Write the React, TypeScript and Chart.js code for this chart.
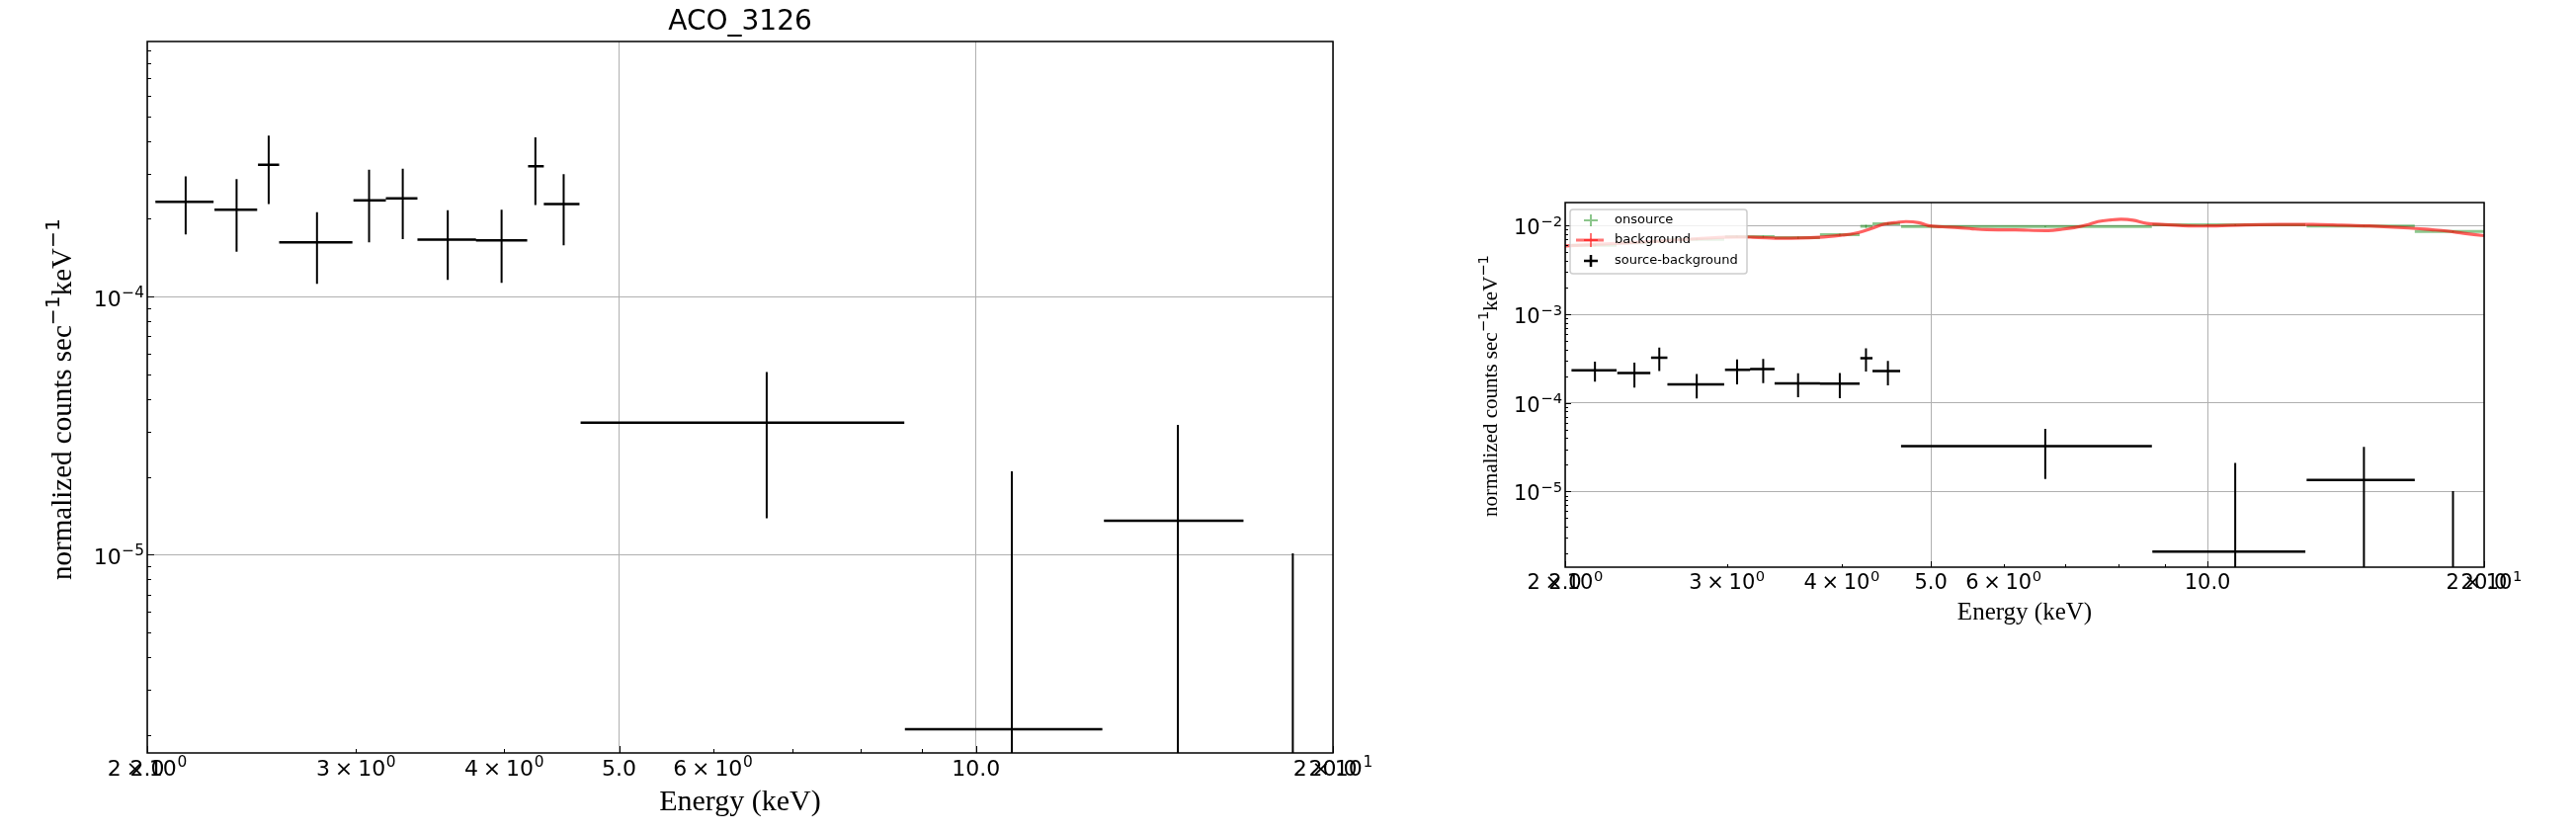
import React, { useEffect, useRef } from 'react';
import { Chart, registerables } from 'chart.js';

Chart.register(...registerables);

// ---------- data (keV ; normalized counts s^-1 keV^-1) ----------
const srcEnergy = [2.155, 2.379, 2.532, 2.781, 3.077, 3.285, 3.585, 3.98, 4.25, 4.49, 6.66, 10.72, 14.8, 18.5];
const srcEnergyLo = [2.032, 2.279, 2.48, 2.584, 2.985, 3.179, 3.38, 3.787, 4.19, 4.32, 4.64, 8.71, 12.82, 16.81];
const srcEnergyHi = [2.275, 2.476, 2.584, 2.979, 3.179, 3.38, 3.787, 4.183, 4.32, 4.63, 8.7, 12.78, 16.81, 20.4];
const srcRate = [2.33e-4, 2.17e-4, 3.24e-4, 1.62e-4, 2.36e-4, 2.4e-4, 1.66e-4, 1.65e-4, 3.2e-4, 2.28e-4, 3.24e-5, 2.1e-6, 1.35e-5, 1.0e-6];
const srcErr = [5.9e-5, 6.8e-5, 9.6e-5, 5.0e-5, 7.4e-5, 7.3e-5, 5.0e-5, 5.2e-5, 9.4e-5, 7.0e-5, 1.86e-5, 1.89e-5, 1.83e-5, 9.1e-6];

const onRate = [6.0e-3, 6.4e-3, 6.7e-3, 7.0e-3, 7.5e-3, 7.5e-3, 7.3e-3, 7.9e-3, 9.8e-3, 1.05e-2, 9.74e-3, 1.02e-2, 9.9e-3, 8.57e-3];
const onErr = [2e-4, 2e-4, 3e-4, 2e-4, 2e-4, 2e-4, 2e-4, 2e-4, 4e-4, 3e-4, 1.5e-4, 1.5e-4, 1.5e-4, 1.5e-4];

const bkgEnergy = [2.0, 2.27, 2.6, 2.98, 3.2, 3.45, 3.78, 4.0, 4.14, 4.3, 4.45, 4.6, 4.7, 4.85, 4.97, 5.15, 5.35, 5.55, 5.75, 6.18, 6.71, 6.95, 7.16, 7.4, 7.6, 7.85, 8.06, 8.3, 8.59, 8.92, 9.4, 10.0, 11.0, 12.0, 13.0, 14.0, 15.0, 16.55, 17.5, 18.2, 19.0, 20.0];
const bkgRate = [5.9e-3, 6.3e-3, 6.8e-3, 7.4e-3, 7.4e-3, 7.2e-3, 7.4e-3, 7.8e-3, 8.2e-3, 9.2e-3, 1.04e-2, 1.09e-2, 1.11e-2, 1.08e-2, 1.0e-2, 9.7e-3, 9.5e-3, 9.2e-3, 9.0e-3, 8.95e-3, 8.8e-3, 9.1e-3, 9.5e-3, 1.02e-2, 1.11e-2, 1.16e-2, 1.18e-2, 1.15e-2, 1.06e-2, 1.03e-2, 1.0e-2, 9.9e-3, 1.02e-2, 1.03e-2, 1.03e-2, 1.01e-2, 9.9e-3, 9.4e-3, 9.0e-3, 8.7e-3, 8.2e-3, 7.7e-3];

// ---------- ticks / labels ----------
const X_MIN = 2;
const X_MAX = 20;
const xTickValues = [2, 2.0000001, 3, 4, 5, 6, 7, 8, 9, 10, 20, 20.0000001];
const xTickLabels = ['2×10^0', '2.0', '3×10^0', '4×10^0', '5.0', '6×10^0', '', '', '', '10.0', '2×10^1', '20.0'];
const xMajorTicks = [2, 5, 10, 20];
const yDecades = [1e-7, 1e-6, 1e-5, 1e-4, 1e-3, 1e-2];
const yDecadeLabels = ['10^−7', '10^−6', '10^−5', '10^−4', '10^−3', '10^−2'];
const yMinorMultipliers = [2, 3, 4, 5, 6, 7, 8, 9];
const yTitleParts = [
  { text: 'normalized counts sec', sup: false },
  { text: '−1', sup: true },
  { text: 'keV', sup: false },
  { text: '−1', sup: true },
];

const LOG_FLOOR = 1e-9;

type Pt = { x: number; y: number | null };

function hSegments(lo: number[], hi: number[], y: number[]): Pt[] {
  const out: Pt[] = [];
  y.forEach((v, i) => {
    out.push({ x: lo[i], y: v }, { x: hi[i], y: v }, { x: hi[i], y: null });
  });
  return out;
}

function vSegments(x: number[], y: number[], err: number[]): Pt[] {
  const out: Pt[] = [];
  y.forEach((v, i) => {
    const low = v - err[i] > 0 ? v - err[i] : LOG_FLOOR;
    out.push({ x: x[i], y: low }, { x: x[i], y: v + err[i] }, { x: x[i], y: null });
  });
  return out;
}

const isNear = (a: number, b: number) => Math.abs(a - b) / b < 1e-6;
const isDecade = (v: number) => yDecades.some((d) => isNear(v, d));
const isXMajor = (v: number) => xMajorTicks.some((d) => Math.abs(v - d) < 1e-5);

// draws "base^sup" in a mathtext-like way (superscript at 70 %)
function drawMathLabel(ctx: CanvasRenderingContext2D, label: string, x: number, baseline: number, align: 'center' | 'right', F: number) {
  if (!label) return;
  const [base, sup] = label.split('^');
  const baseFont = `${F}px 'DejaVu Sans'`;
  const supFont = `${(F * 0.7).toFixed(2)}px 'DejaVu Sans'`;
  const segs = base.split('×');
  const gap = F * 0.22;
  ctx.font = baseFont;
  const segW = segs.map((s) => ctx.measureText(s).width);
  const timesW = ctx.measureText('×').width;
  let total = segW.reduce((a, b) => a + b, 0) + (segs.length - 1) * (timesW + 2 * gap);
  let supW = 0;
  if (sup) {
    ctx.font = supFont;
    supW = ctx.measureText(sup).width;
    total += supW + F * 0.03;
  }
  let cx = align === 'center' ? x - total / 2 : x - total;
  ctx.textAlign = 'left';
  ctx.textBaseline = 'alphabetic';
  ctx.font = baseFont;
  segs.forEach((s, i) => {
    if (i > 0) {
      cx += gap;
      ctx.fillText('×', cx, baseline);
      cx += timesW + gap;
    }
    ctx.fillText(s, cx, baseline);
    cx += segW[i];
  });
  if (sup) {
    ctx.font = supFont;
    ctx.fillText(sup, cx + F * 0.03, baseline - F * 0.4);
  }
}

interface PanelCfg {
  yMin: number;
  yMax: number;
  padTop: number;
  padRight: number;
  yAxisWidth: number;
  xAxisHeight: number;
  tickFont: number;
  xLabelBaseline: number;
  yLabelPad: number;
  yLabelShift: number;
  yTitleFont: number;
  yTitleBaseline: number;
  yTitleCenterShift: number;
  xTitleFont: number;
  xTitlePad: number;
  title?: string;
  full: boolean;
  hWidth: number;
  vWidth: number;
  majorLen: number;
  minorLen: number;
}

function legendPlugin() {
  return {
    id: 'boxLegend',
    afterDraw(chart: any) {
      const { ctx, chartArea: a } = chart;
      const L = a.left + 5;
      const T = a.top + 7;
      const W = 179;
      const H = 65;
      ctx.save();
      ctx.fillStyle = 'rgba(255,255,255,0.8)';
      ctx.strokeStyle = 'rgba(200,200,200,0.9)';
      ctx.lineWidth = 1.5;
      ctx.beginPath();
      const r = 3;
      ctx.moveTo(L + r, T);
      ctx.lineTo(L + W - r, T);
      ctx.quadraticCurveTo(L + W, T, L + W, T + r);
      ctx.lineTo(L + W, T + H - r);
      ctx.quadraticCurveTo(L + W, T + H, L + W - r, T + H);
      ctx.lineTo(L + r, T + H);
      ctx.quadraticCurveTo(L, T + H, L, T + H - r);
      ctx.lineTo(L, T + r);
      ctx.quadraticCurveTo(L, T, L + r, T);
      ctx.closePath();
      ctx.fill();
      ctx.stroke();

      const mx = L + 21;
      const rows = [T + 11, T + 31, T + 52];
      const plus = (cx: number, cy: number, hx: number, hy: number, color: string, w: number) => {
        ctx.strokeStyle = color;
        ctx.lineWidth = w;
        ctx.beginPath();
        ctx.moveTo(cx - hx, cy);
        ctx.lineTo(cx + hx, cy);
        ctx.moveTo(cx, cy - hy);
        ctx.lineTo(cx, cy + hy);
        ctx.stroke();
      };
      plus(mx, rows[0], 7, 6, 'rgba(0,128,0,0.45)', 2);
      ctx.strokeStyle = 'rgba(255,0,0,0.55)';
      ctx.lineWidth = 3;
      ctx.beginPath();
      ctx.moveTo(L + 6, rows[1]);
      ctx.lineTo(L + 34, rows[1]);
      ctx.stroke();
      plus(mx, rows[1], 7, 7, 'rgba(255,0,0,0.55)', 2);
      plus(mx, rows[2], 7, 6, '#000', 2.5);

      ctx.fillStyle = '#000';
      ctx.font = "13px 'DejaVu Sans'";
      ctx.textBaseline = 'middle';
      ctx.textAlign = 'left';
      ctx.fillText('onsource', L + 45, rows[0]);
      ctx.fillText('background', L + 45, rows[1]);
      ctx.fillText('source-background', L + 45, rows[2]);
      ctx.restore();
    },
  };
}

function framePlugin(cfg: PanelCfg) {
  return {
    id: 'frameTicks',
    afterDatasetsDraw(chart: any) {
      const { ctx, chartArea: a, scales } = chart;
      const xs = scales.x;
      const ys = scales.y;
      ctx.save();
      ctx.strokeStyle = '#000';
      ctx.lineWidth = 1;
      ctx.beginPath();
      xs.ticks.forEach((t: any) => {
        const px = Math.round(xs.getPixelForValue(t.value)) + 0.5;
        const len = isXMajor(t.value) ? cfg.majorLen : cfg.minorLen;
        ctx.moveTo(px, a.bottom);
        ctx.lineTo(px, a.bottom - len);
      });
      ys.ticks.forEach((t: any) => {
        if (t.value < cfg.yMin || t.value > cfg.yMax) return;
        const py = Math.round(ys.getPixelForValue(t.value)) + 0.5;
        const len = isDecade(t.value) ? cfg.majorLen : cfg.minorLen;
        ctx.moveTo(a.left, py);
        ctx.lineTo(a.left + len, py);
      });
      ctx.stroke();
      ctx.lineWidth = 1.5;
      ctx.strokeRect(a.left, a.top, a.right - a.left, a.bottom - a.top);

      // tick labels (mathtext-like superscripts)
      ctx.fillStyle = '#000';
      xs.ticks.forEach((t: any, i: number) => {
        drawMathLabel(ctx, xTickLabels[i], xs.getPixelForValue(t.value), a.bottom + cfg.xLabelBaseline, 'center', cfg.tickFont);
      });
      ys.ticks.forEach((t: any) => {
        const idx = yDecades.findIndex((d) => isNear(t.value, d));
        if (idx < 0) return;
        drawMathLabel(ctx, yDecadeLabels[idx], a.left - cfg.yLabelPad, ys.getPixelForValue(t.value) + cfg.yLabelShift, 'right', cfg.tickFont);
      });

      // rotated y-axis title with real superscripts
      const F = cfg.yTitleFont;
      const serif = `${F}px 'Liberation Serif'`;
      const supF = `${(F * 0.7).toFixed(2)}px 'DejaVu Sans'`;
      const widths = yTitleParts.map((p) => {
        ctx.font = p.sup ? supF : serif;
        return ctx.measureText(p.text).width;
      });
      const total = widths.reduce((s, w) => s + w, 0);
      ctx.translate(cfg.yTitleBaseline, (a.top + a.bottom) / 2 + cfg.yTitleCenterShift);
      ctx.rotate(-Math.PI / 2);
      ctx.textAlign = 'left';
      ctx.textBaseline = 'alphabetic';
      let px = -total / 2;
      yTitleParts.forEach((p, i) => {
        ctx.font = p.sup ? supF : serif;
        ctx.fillText(p.text, px, p.sup ? -F * 0.42 : 0);
        px += widths[i];
      });
      ctx.restore();
    },
  };
}

function buildConfig(cfg: PanelCfg): any {
  const datasets: any[] = [
    {
      label: 'source-background',
      data: hSegments(srcEnergyLo, srcEnergyHi, srcRate),
      borderColor: '#000',
      borderWidth: cfg.hWidth,
      pointRadius: 0,
      spanGaps: false,
      borderCapStyle: 'butt',
    },
    {
      label: 'source-background err',
      data: vSegments(srcEnergy, srcRate, srcErr),
      borderColor: '#000',
      borderWidth: cfg.vWidth,
      pointRadius: 0,
      spanGaps: false,
    },
  ];
  if (cfg.full) {
    datasets.push(
      {
        label: 'background',
        data: bkgEnergy.map((e, i) => ({ x: e, y: bkgRate[i] })),
        borderColor: 'rgba(255,0,0,0.62)',
        borderWidth: 3.2,
        pointRadius: 0,
        tension: 0.35,
      },
      {
        label: 'onsource',
        data: hSegments(srcEnergyLo, srcEnergyHi, onRate),
        borderColor: 'rgba(0,128,0,0.45)',
        borderWidth: 3,
        pointRadius: 0,
        spanGaps: false,
      },
      {
        label: 'onsource err',
        data: vSegments(srcEnergy, onRate, onErr),
        borderColor: 'rgba(0,128,0,0.45)',
        borderWidth: 1.5,
        pointRadius: 0,
        spanGaps: false,
      }
    );
  }

  const yTicks: number[] = [];
  yDecades.forEach((d) => {
    yTicks.push(d);
    yMinorMultipliers.forEach((m) => yTicks.push(d * m));
  });

  const plugins: any[] = [framePlugin(cfg)];
  if (cfg.full) plugins.push(legendPlugin());

  return {
    type: 'line',
    data: { datasets },
    plugins,
    options: {
      animation: false,
      responsive: false,
      maintainAspectRatio: false,
      devicePixelRatio: 1,
      layout: { padding: { left: 0, top: cfg.padTop, right: cfg.padRight, bottom: 0 } },
      plugins: {
        legend: { display: false },
        tooltip: { enabled: false },
        title: cfg.title
          ? {
              display: true,
              text: cfg.title,
              fullSize: false,
              color: '#000',
              font: { family: "'DejaVu Sans'", size: 28, weight: 'normal', lineHeight: 1.2 },
              padding: { top: 6, bottom: 2.4 },
            }
          : { display: false },
      },
      scales: {
        x: {
          type: 'logarithmic',
          min: X_MIN,
          max: X_MAX,
          bounds: 'data',
          afterBuildTicks: (s: any) => {
            s.ticks = xTickValues.map((v) => ({ value: v }));
          },
          afterFit: (s: any) => {
            s.height = cfg.xAxisHeight;
          },
          ticks: {
            display: false,
            autoSkip: false,
            maxRotation: 0,
            minRotation: 0,
            callback: (_v: any, i: number) => xTickLabels[i],
          },
          grid: {
            drawTicks: false,
            lineWidth: 1,
            color: (c: any) => (c.tick && isXMajor(c.tick.value) ? '#b0b0b0' : 'rgba(0,0,0,0)'),
          },
          border: { display: false },
          title: {
            display: true,
            text: 'Energy (keV)',
            color: '#000',
            font: { family: "'Liberation Serif'", size: cfg.xTitleFont, lineHeight: 1.2 },
            padding: { top: 0, bottom: cfg.xTitlePad },
          },
        },
        y: {
          type: 'logarithmic',
          min: cfg.yMin,
          max: cfg.yMax,
          bounds: 'data',
          afterBuildTicks: (s: any) => {
            s.ticks = yTicks.filter((v) => v >= cfg.yMin && v <= cfg.yMax).map((v) => ({ value: v }));
          },
          afterFit: (s: any) => {
            s.width = cfg.yAxisWidth;
          },
          ticks: {
            display: false,
            autoSkip: false,
            callback: (v: any) => {
              const idx = yDecades.findIndex((d) => isNear(Number(v), d));
              return idx >= 0 ? yDecadeLabels[idx] : '';
            },
          },
          grid: {
            drawTicks: false,
            lineWidth: 1,
            color: (c: any) => (c.tick && isDecade(c.tick.value) ? '#b0b0b0' : 'rgba(0,0,0,0)'),
          },
          border: { display: false },
          title: { display: false },
        },
      },
    },
  };
}

const leftCfg: PanelCfg = {
  yMin: 1.7e-6,
  yMax: 9.74e-4,
  padTop: 0,
  padRight: 71,
  yAxisWidth: 149,
  xAxisHeight: 80,
  tickFont: 22,
  xLabelBaseline: 23,
  yLabelPad: 3,
  yLabelShift: 10,
  yTitleFont: 29,
  yTitleBaseline: 72,
  yTitleCenterShift: 2,
  xTitleFont: 30,
  xTitlePad: 12,
  title: 'ACO_3126',
  full: false,
  hWidth: 2.5,
  vWidth: 2,
  majorLen: 7,
  minorLen: 4,
};

const rightCfg: PanelCfg = {
  yMin: 1.4e-6,
  yMax: 1.82e-2,
  padTop: 205,
  padRight: 93,
  yAxisWidth: 164,
  xAxisHeight: 268,
  tickFont: 21,
  xLabelBaseline: 22,
  yLabelPad: 3,
  yLabelShift: 9,
  yTitleFont: 21,
  yTitleBaseline: 95,
  yTitleCenterShift: 1,
  xTitleFont: 25,
  xTitlePad: 207,
  full: true,
  hWidth: 2.5,
  vWidth: 2,
  majorLen: 6,
  minorLen: 3,
};

export default function App() {
  const ref1 = useRef<HTMLCanvasElement>(null);
  const ref2 = useRef<HTMLCanvasElement>(null);
  useEffect(() => {
    const c1 = new Chart(ref1.current as HTMLCanvasElement, buildConfig(leftCfg));
    const c2 = new Chart(ref2.current as HTMLCanvasElement, buildConfig(rightCfg));
    return () => {
      c1.destroy();
      c2.destroy();
    };
  }, []);
  return (
    <div style={{ position: 'absolute', left: 0, top: 0, width: 2607, height: 842, background: '#fff', overflow: 'hidden' }}>
      <canvas ref={ref1} width={1420} height={842} style={{ position: 'absolute', left: 0, top: 0, width: 1420, height: 842 }} />
      <canvas ref={ref2} width={1187} height={842} style={{ position: 'absolute', left: 1420, top: 0, width: 1187, height: 842 }} />
    </div>
  );
}
